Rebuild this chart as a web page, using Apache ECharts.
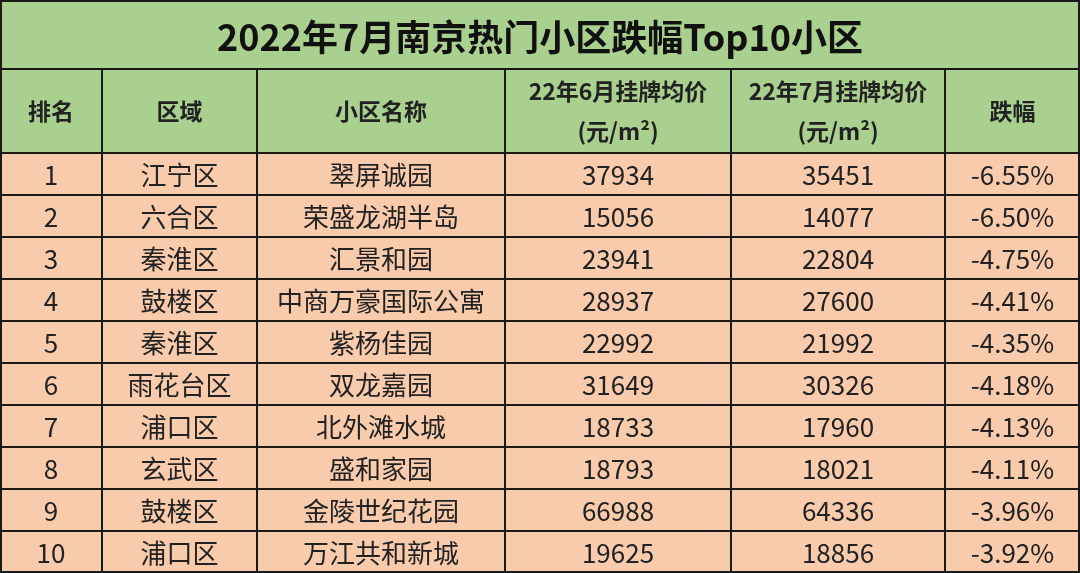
<!DOCTYPE html>
<html><head><meta charset="utf-8">
<script src="https://cdn.jsdelivr.net/npm/echarts@6/dist/echarts.min.js"></script>
<style>html,body{margin:0;padding:0;background:#fff}#c{width:1080px;height:573px}</style>
</head><body><div id="c"></div>
<script>
const title = '2022年7月南京热门小区跌幅Top10小区';
const headers = ['排名', '区域', '小区名称', '22年6月挂牌均价\n(元/m²)', '22年7月挂牌均价\n(元/m²)', '跌幅'];
const ranks = ['1','2','3','4','5','6','7','8','9','10'];
const districts = ['江宁区','六合区','秦淮区','鼓楼区','秦淮区','雨花台区','浦口区','玄武区','鼓楼区','浦口区'];
const communities = ['翠屏诚园','荣盛龙湖半岛','汇景和园','中商万豪国际公寓','紫杨佳园','双龙嘉园','北外滩水城','盛和家园','金陵世纪花园','万江共和新城'];
const priceJun = [37934,15056,23941,28937,22992,31649,18733,18793,66988,19625];
const priceJul = [35451,14077,22804,27600,21992,30326,17960,18021,64336,18856];
const drops = ['-6.55%','-6.50%','-4.75%','-4.41%','-4.35%','-4.18%','-4.13%','-4.11%','-3.96%','-3.92%'];

const colEdges = [0, 102, 257, 505, 731, 945, 1080];
const GREEN = '#a9d08e', PEACH = '#f8cbad', LINE = '#1a1a1a';
const FONT = '"Noto Sans CJK SC", "Noto Sans", sans-serif';

const cols = [ranks, districts, communities, priceJun.map(String), priceJul.map(String), drops];
const cellData = [];
for (let r = 0; r < ranks.length; r++) for (let c = 0; c < 6; c++) cellData.push([c, r, cols[c][r]]);

const chart = echarts.init(document.getElementById('c'));
function cellShape(api, x0, x1, row) {
  const yTop = api.coord([0, row])[1] - api.size([0, 1])[1] / 2;
  const h = api.size([0, 1])[1];
  return {x: x0, y: yTop, width: x1 - x0, height: h};
}
chart.setOption({
  animation: false,
  grid: {left: 0, right: 0, top: 153, bottom: 0},
  xAxis: {type: 'value', min: 0, max: 1080, show: false},
  yAxis: {type: 'category', data: ranks, inverse: true, show: false},
  graphic: [
    {type: 'rect', shape: {x: 0, y: 0, width: 1080, height: 153}, style: {fill: GREEN}},
    {type: 'text', x: 540, y: 37, style: {text: title, font: 'bold 36px ' + FONT, fill: '#111', align: 'center', verticalAlign: 'middle'}},
    {type: 'line', shape: {x1: 0, y1: 69, x2: 1080, y2: 69}, style: {stroke: LINE, lineWidth: 2}},
    {type: 'rect', shape: {x: 1, y: 1, width: 1078, height: 571}, style: {fill: 'none', stroke: LINE, lineWidth: 2}, z: 10},
  ].concat(headers.map((h, i) => ({
    type: 'text', x: (colEdges[i] + colEdges[i+1]) / 2, y: 111,
    style: {text: h, font: 'bold 23px ' + FONT, fill: '#222', align: 'center', verticalAlign: 'middle', lineHeight: 40}
  }))).concat(colEdges.slice(1, -1).map(x => ({
    type: 'line', shape: {x1: x, y1: 69, x2: x, y2: 153}, style: {stroke: LINE, lineWidth: 2}
  }))),
  series: [{
    type: 'custom',
    data: cellData,
    renderItem: function (params, api) {
      const c = api.value(0), r = api.value(1);
      const s = cellShape(api, colEdges[c], colEdges[c+1], r);
      return {type: 'group', children: [
        {type: 'rect', shape: s, style: {fill: PEACH, stroke: LINE, lineWidth: 2}},
        {type: 'text', x: s.x + s.width / 2, y: s.y + s.height / 2 + 1,
         style: {text: cellData[params.dataIndex][2], font: '26px ' + FONT, fill: '#222', align: 'center', verticalAlign: 'middle'}}
      ]};
    }
  }]
});
</script></body></html>
